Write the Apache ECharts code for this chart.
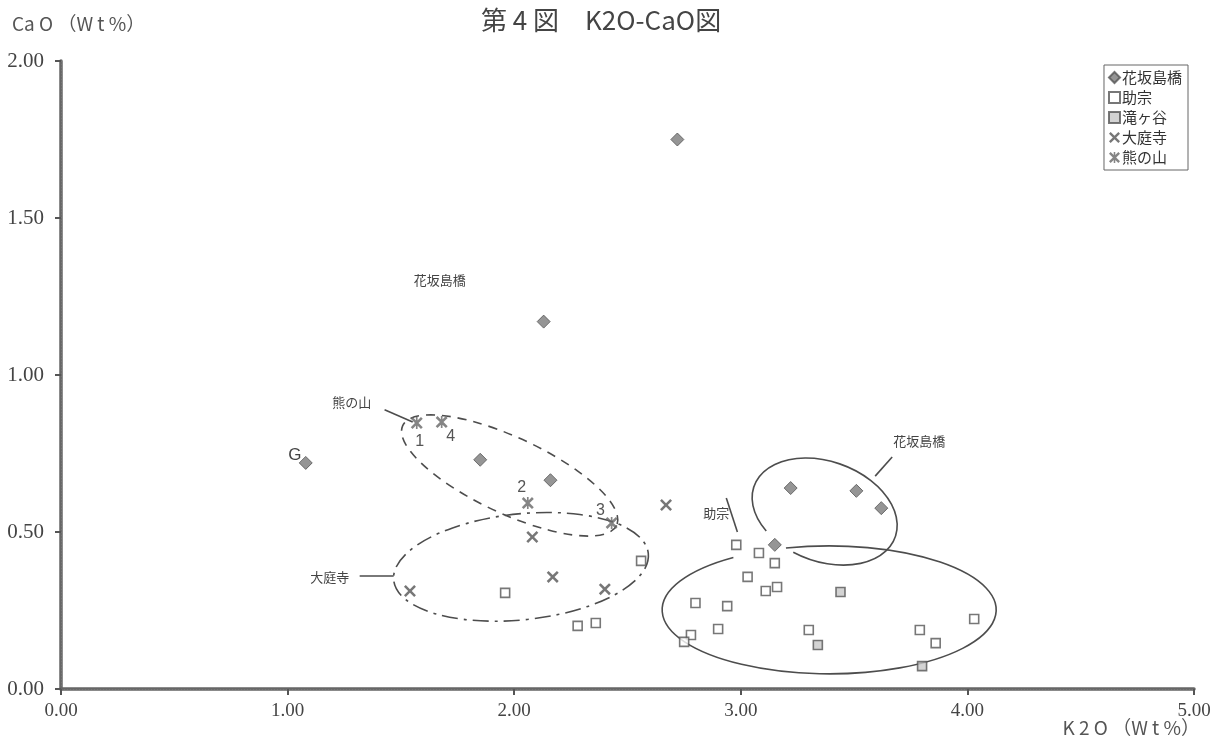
<!DOCTYPE html>
<html>
<head>
<meta charset="utf-8">
<script src="https://cdn.jsdelivr.net/npm/echarts@6/dist/echarts.min.js"></script>
<style>
  html, body { margin: 0; padding: 0; background: #fff; }
  #chart { width: 1220px; height: 744px; }
</style>
</head>
<body>
<div id="chart"></div>
<script>
// K2O (wt%) / CaO (wt%) pairs for each site
const hanasakaK2O = [2.72, 2.13, 1.08, 1.85, 2.16, 3.22, 3.51, 3.62, 3.15];
const hanasakaCaO = [1.75, 1.17, 0.72, 0.73, 0.665, 0.640, 0.631, 0.576, 0.459];

const sukemuneK2O = [2.98, 3.08, 3.15, 3.03, 3.11, 3.16, 2.80, 2.94, 2.90, 2.78, 2.75, 3.30, 3.79, 3.86, 4.03, 2.56, 1.96, 2.28, 2.36];
const sukemuneCaO = [0.459, 0.433, 0.401, 0.357, 0.312, 0.325, 0.274, 0.264, 0.191, 0.172, 0.150, 0.188, 0.188, 0.146, 0.223, 0.408, 0.306, 0.201, 0.210];

const takigayaK2O = [3.44, 3.34, 3.80];
const takigayaCaO = [0.309, 0.140, 0.073];

const obaderaK2O = [1.54, 2.08, 2.17, 2.40, 2.67];
const obaderaCaO = [0.312, 0.484, 0.357, 0.318, 0.586];

const kumanoyamaK2O = [1.57, 1.68, 2.06, 2.43];
const kumanoyamaCaO = [0.847, 0.850, 0.592, 0.529];
const kumanoyamaNo = ['1', '4', '2', '3'];

const seriesNames = ['花坂島橋', '助宗', '滝ヶ谷', '大庭寺', '熊の山'];
const xTicks = [0, 1, 2, 3, 4, 5];
const yTicks = [0, 0.5, 1, 1.5, 2];

const pairs = (xs, ys) => xs.map((x, i) => [x, ys[i]]);

const JP = '"Noto Sans CJK JP", "Noto Sans", sans-serif';
const SERIF = '"Liberation Serif", "DejaVu Serif", serif';

// X-shaped and star-shaped markers as filled outlines
const crossPath = 'path://M0,1.5L1.5,0L5,3.5L8.5,0L10,1.5L6.5,5L10,8.5L8.5,10L5,6.5L1.5,10L0,8.5L3.5,5Z';
const starPath = crossPath + 'M4.3,0L5.7,0L5.7,10L4.3,10Z';

// Hand-drawn grouping outlines: centre in data units, radii in px, tilt in degrees,
// arc drawn from a0 to a1 (degrees, screen orientation)
const outlines = [
  { c: [1.98, 0.68], rx: 118, ry: 38, rot: 25, a0: 0, a1: 360, dash: [9, 7] },
  { c: [2.03, 0.389], rx: 128, ry: 53, rot: -6, a0: 0, a1: 360, dash: [16, 6, 3, 6] },
  { c: [3.37, 0.565], rx: 75, ry: 50, rot: 20, a0: 130, a1: 462, dash: null },
  { c: [3.39, 0.252], rx: 167, ry: 64, rot: 0, a0: 255, a1: 595, dash: null }
];
// Leader lines (data units)
const leaders = [
  [[1.428, 0.889], [1.552, 0.850]],
  [[1.318, 0.360], [1.468, 0.360]],
  [[2.936, 0.608], [2.985, 0.500]],
  [[3.668, 0.739], [3.593, 0.678]]
];
// Callout texts (data units)
const callouts = [
  { t: '熊の山', p: [1.283, 0.914], size: 13 },
  { t: '大庭寺', p: [1.186, 0.357], size: 13 },
  { t: '助宗', p: [2.892, 0.561], size: 13 },
  { t: '花坂島橋', p: [3.787, 0.790], size: 13 },
  { t: '花坂島橋', p: [1.671, 1.303], size: 13 },
  { t: 'G', p: [1.032, 0.745], size: 17, sans: true }
];
const numberSpots = [[1.583, 0.787], [1.720, 0.803], [2.033, 0.643], [2.381, 0.567]];

function arcPath(c, rx, ry, rotDeg, a0, a1) {
  const phi = rotDeg * Math.PI / 180;
  const pt = t => {
    const r = t * Math.PI / 180;
    const lx = rx * Math.cos(r), ly = ry * Math.sin(r);
    return [c[0] + lx * Math.cos(phi) - ly * Math.sin(phi),
            c[1] + lx * Math.sin(phi) + ly * Math.cos(phi)];
  };
  let p = pt(a0);
  let d = 'M ' + p[0].toFixed(2) + ' ' + p[1].toFixed(2);
  const n = Math.ceil((a1 - a0) / 60);
  for (let i = 1; i <= n; i++) {
    const q = pt(a0 + (a1 - a0) * i / n);
    d += ' A ' + rx + ' ' + ry + ' ' + rotDeg + ' 0 1 ' + q[0].toFixed(2) + ' ' + q[1].toFixed(2);
  }
  return d;
}

function renderNotes(params, api) {
  const children = [];
  outlines.forEach(o => {
    children.push({
      type: 'path',
      shape: { pathData: arcPath(api.coord(o.c), o.rx, o.ry, o.rot, o.a0, o.a1) },
      style: { stroke: '#4d4d4d', fill: null, lineWidth: 1.6, lineDash: o.dash || null }
    });
  });
  leaders.forEach(l => {
    const a = api.coord(l[0]), b = api.coord(l[1]);
    children.push({
      type: 'line',
      shape: { x1: a[0], y1: a[1], x2: b[0], y2: b[1] },
      style: { stroke: '#4d4d4d', lineWidth: 1.6 }
    });
  });
  callouts.forEach(t => {
    const p = api.coord(t.p);
    children.push({
      type: 'text', x: p[0], y: p[1],
      style: { text: t.t, fill: '#444', font: t.size + 'px ' + (t.sans ? '"Liberation Sans", sans-serif' : JP),
               align: 'center', verticalAlign: 'middle' }
    });
  });
  numberSpots.forEach((s, i) => {
    const p = api.coord(s);
    children.push({
      type: 'text', x: p[0], y: p[1],
      style: { text: kumanoyamaNo[i], fill: '#555', font: '16px "Liberation Sans", sans-serif',
               align: 'center', verticalAlign: 'middle' }
    });
  });
  return { type: 'group', children };
}

const axisBase = {
  type: 'value', min: 0,
  splitLine: { show: false },
  axisLine: { show: true, onZero: false, lineStyle: { color: '#666', width: 3.5 } },
  axisTick: { show: true, length: 6, lineStyle: { color: '#555', width: 2 } }
};

const chart = echarts.init(document.getElementById('chart'));
chart.setOption({
  animation: false,
  backgroundColor: '#fff',
  title: {
    text: '第 4 図　K2O-CaO図',
    left: 476, top: 2,
    textStyle: { fontFamily: JP, fontSize: 26, fontWeight: 'normal', color: '#444' }
  },
  grid: { left: 61, right: 26, top: 61, bottom: 55 },
  legend: {
    data: seriesNames,
    orient: 'vertical',
    right: 32, top: 65,
    itemWidth: 11, itemHeight: 11, itemGap: 5,
    padding: [5, 6, 5, 4],
    borderColor: '#666', borderWidth: 1,
    backgroundColor: '#fff',
    textStyle: { fontFamily: JP, fontSize: 15, lineHeight: 15, color: '#333', padding: [0, 0, 0, -3] }
  },
  xAxis: [
    Object.assign({}, axisBase, {
      max: 5, interval: 1,
      axisLabel: { margin: 13, fontFamily: SERIF, fontSize: 19, color: '#444',
                   formatter: v => xTicks.includes(v) ? v.toFixed(2) : '' }
    }),
    { type: 'value', min: 0, max: 5, position: 'top', gridIndex: 0,
      axisLine: { show: true, lineStyle: { color: '#777', width: 1, type: [1, 2] } },
      axisTick: { show: false }, axisLabel: { show: false }, splitLine: { show: false } }
  ],
  yAxis: [
    Object.assign({}, axisBase, {
      max: 2, interval: 0.5,
      axisLabel: { margin: 17, fontFamily: SERIF, fontSize: 21, color: '#444',
                   formatter: v => yTicks.includes(v) ? v.toFixed(2) : '' }
    }),
    { type: 'value', min: 0, max: 2, position: 'right', gridIndex: 0,
      axisLine: { show: true, lineStyle: { color: '#777', width: 1, type: [1, 2] } },
      axisTick: { show: false }, axisLabel: { show: false }, splitLine: { show: false } }
  ],
  graphic: [
    { type: 'text', left: 12, top: 14,
      style: { text: 'Ca O （W t %）', font: '19px ' + JP, fill: '#555' } },
    { type: 'text', right: 20, top: 718,
      style: { text: 'K 2 O （W t %）', font: '19px ' + JP, fill: '#555' } }
  ],
  series: [
    {
      type: 'custom', name: 'notes', coordinateSystem: 'cartesian2d', silent: true, z: 1,
      data: [[0, 0]], renderItem: renderNotes
    },
    {
      name: seriesNames[0], type: 'scatter', z: 3,
      data: pairs(hanasakaK2O, hanasakaCaO),
      symbol: 'diamond', symbolSize: 13,
      itemStyle: { color: '#7a7a7a', borderColor: '#555', borderWidth: 1 }
    },
    {
      name: seriesNames[1], type: 'scatter', z: 3,
      data: pairs(sukemuneK2O, sukemuneCaO),
      symbol: 'rect', symbolSize: 9,
      itemStyle: { color: '#fff', borderColor: '#555', borderWidth: 1.6 }
    },
    {
      name: seriesNames[2], type: 'scatter', z: 3,
      data: pairs(takigayaK2O, takigayaCaO),
      symbol: 'rect', symbolSize: 9,
      itemStyle: { color: '#c8c8c8', borderColor: '#555', borderWidth: 1.6 }
    },
    {
      name: seriesNames[3], type: 'scatter', z: 3,
      data: pairs(obaderaK2O, obaderaCaO),
      symbol: crossPath, symbolSize: 12,
      itemStyle: { color: '#555' }
    },
    {
      name: seriesNames[4], type: 'scatter', z: 3,
      data: pairs(kumanoyamaK2O, kumanoyamaCaO),
      symbol: starPath, symbolSize: 12,
      itemStyle: { color: '#666' }
    }
  ]
});
</script>
</body>
</html>
